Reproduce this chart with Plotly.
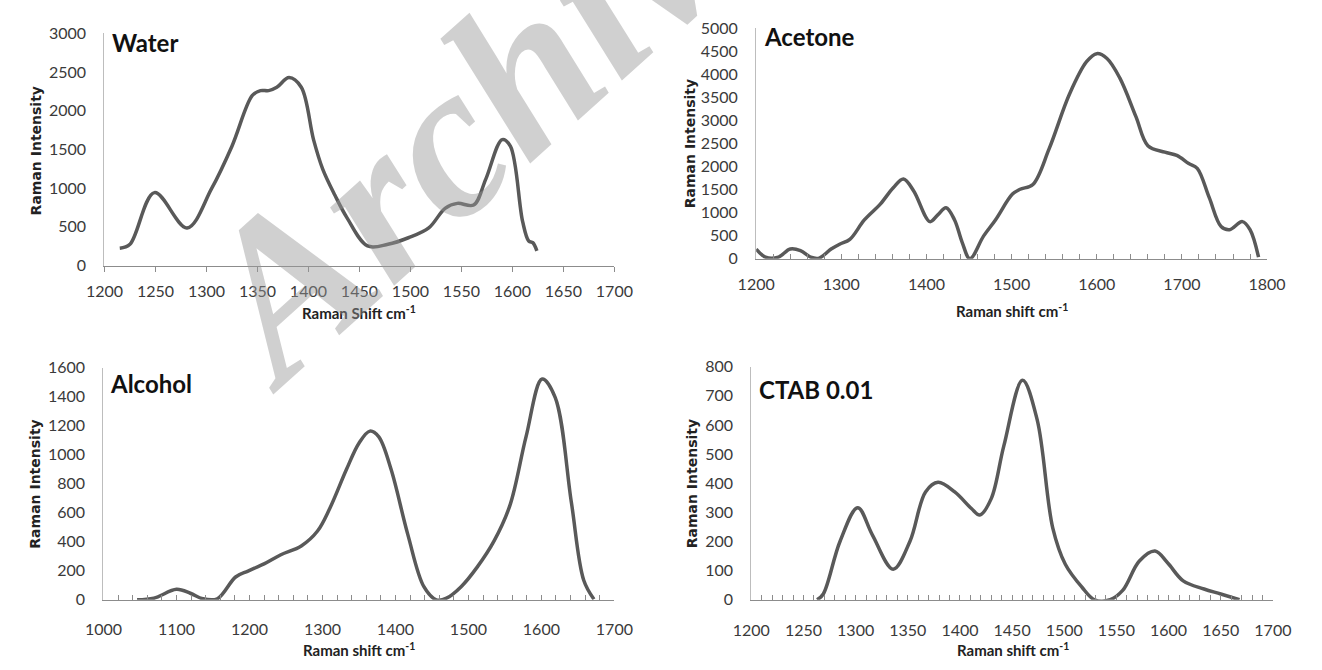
import plotly.graph_objects as go

# ---------------- data ----------------
water_x = [1215, 1225, 1249, 1281, 1305, 1325, 1345, 1353, 1361, 1369, 1381, 1393, 1405, 1414,
           1426, 1438, 1458, 1478, 1498, 1518, 1534, 1546, 1562, 1574, 1590, 1598, 1610, 1616, 1620, 1624]
water_y = [224, 275, 942, 486, 993, 1542, 2197, 2260, 2260, 2303, 2429, 2303, 1627, 1246,
           908, 613, 253, 275, 359, 486, 739, 803, 782, 1120, 1627, 1542, 570, 317, 296, 190]

acetone_x = [1200, 1211, 1226, 1240, 1252, 1264, 1274, 1288, 1298, 1310, 1327, 1346, 1361, 1373,
             1385, 1404, 1413, 1423, 1433, 1442, 1451, 1467, 1481, 1501, 1510, 1525, 1544, 1568,
             1588, 1600, 1612, 1627, 1646, 1660, 1680, 1694, 1708, 1718, 1732, 1746, 1756, 1771,
             1780, 1790]
acetone_y = [210, 35, 35, 210, 175, 35, 14, 210, 315, 421, 842, 1192, 1543, 1732,
             1473, 806, 947, 1108, 842, 351, 0, 491, 842, 1403, 1508, 1613, 2384, 3577,
             4278, 4453, 4348, 3927, 3086, 2455, 2314, 2244, 2069, 1964, 1332, 701, 631, 806,
             631, 35]

alcohol_x = [1046, 1069, 1100, 1119, 1136, 1156, 1181, 1198, 1220, 1243, 1271, 1293, 1310, 1333,
             1350, 1365, 1377, 1394, 1417, 1439, 1456, 1470, 1490, 1512, 1535, 1557, 1579, 1601,
             1619, 1641, 1658, 1672]
alcohol_y = [0, 11, 72, 45, 7, 7, 157, 198, 247, 310, 371, 472, 629, 899,
             1079, 1162, 1124, 899, 449, 90, 0, 11, 90, 225, 404, 652, 1124, 1521,
             1393, 674, 135, 4]

ctab_x = [1263, 1269, 1285, 1302, 1316, 1336, 1352, 1367, 1379, 1395, 1411, 1419, 1430, 1442,
          1460, 1474, 1489, 1501, 1517, 1529, 1544, 1556, 1572, 1587, 1599, 1614, 1634, 1650, 1668]
ctab_y = [0, 20, 200, 316, 223, 105, 200, 370, 403, 370, 313, 291, 347, 527,
          753, 618, 246, 122, 43, 0, 0, 32, 133, 167, 127, 65, 37, 20, 0]

panel_names = ["Water", "Acetone", "Alcohol", "CTAB 0.01"]
x_titles = ["Raman Shift cm<sup>-1</sup>", "Raman shift cm<sup>-1</sup>",
            "Raman shift cm<sup>-1</sup>", "Raman shift cm<sup>-1</sup>"]
y_title = "Raman Intensity"

# ---------------- layout helpers ----------------
W, H = 1322, 670
FONT = "Lato, 'Open Sans', sans-serif"
LINE = "#595959"
TICKC = "#3a3a3a"


def xd(a, b):
    return [a / W, b / W]


def yd(top, bottom):
    return [1 - bottom / H, 1 - top / H]


fig = go.Figure()
series = [(water_x, water_y), (acetone_x, acetone_y), (alcohol_x, alcohol_y), (ctab_x, ctab_y)]
for i, (xs, ys) in enumerate(series):
    sfx = "" if i == 0 else str(i + 1)
    fig.add_trace(go.Scatter(x=xs, y=ys, mode="lines", xaxis="x" + sfx, yaxis="y" + sfx,
                             line=dict(color=LINE, width=3.5, shape="spline", smoothing=1.0),
                             showlegend=False, hoverinfo="skip"))

xdoms = [xd(88, 613), xd(759, 1285), xd(87, 613), xd(754, 1291)]
ydoms = [yd(24, 263), yd(19, 256), yd(368, 607), yd(367, 607)]
xranges = [[1200, 1700], [1200, 1800], [1000, 1700], [1200, 1700]]
yranges = [[0, 3000], [0, 5000], [0, 1600], [0, 800]]
ydticks = [500, 500, 200, 100]
xdticks = [50, 100, 100, 50]
xminor = [None, 20, 20, 10]
xstandoff = [6, 11, 15, 16]

layout = dict(width=W, height=H, margin=dict(l=0, r=0, t=0, b=0),
              paper_bgcolor="white", plot_bgcolor="white",
              font=dict(family=FONT, color=TICKC))

for i in range(4):
    sfx = "" if i == 0 else str(i + 1)
    xa = dict(domain=xdoms[i], range=xranges[i], anchor="y" + sfx, dtick=xdticks[i], tick0=0,
              showgrid=False, zeroline=False, showline=True, linecolor="#8c8c8c", linewidth=1.3,
              ticks="outside" if i == 0 else "inside", ticklen=5, tickcolor="#8c8c8c",
              tickfont=dict(size=16, family=FONT, color=TICKC), ticklabelstandoff=xstandoff[i])
    if xminor[i]:
        xa["minor"] = dict(dtick=xminor[i], tick0=0, ticks="inside", ticklen=5, tickcolor="#8c8c8c")
    ya = dict(domain=ydoms[i], range=yranges[i], anchor="x" + sfx, dtick=ydticks[i], tick0=0,
              showgrid=False, zeroline=False, showline=True, linecolor="#bdbdbd", linewidth=1.3,
              ticks="", tickfont=dict(size=16, family=FONT, color=TICKC), ticklabelstandoff=14)
    layout["xaxis" + sfx] = xa
    layout["yaxis" + sfx] = ya

fig.update_layout(**layout)

# panel labels
label_pos = [(94, 33), (765, 27), (92, 384), (760, 391)]
for name, (px, py) in zip(panel_names, label_pos):
    fig.add_annotation(text="<b>" + name + "</b>", xref="paper", yref="paper",
                       x=px / W, y=1 - py / H, xanchor="left", yanchor="middle", showarrow=False,
                       font=dict(size=24, family=FONT, color="#111111"))

# axis titles
xt_pos = [(350, 311), (1022, 309), (350, 658), (1023, 658)]
for t, (px, py) in zip(x_titles, xt_pos):
    fig.add_annotation(text="<b>" + t + "</b>", xref="paper", yref="paper",
                       x=px / W, y=1 - py / H, xanchor="center", yanchor="middle", showarrow=False,
                       font=dict(size=15, family=FONT, color="#222222"))
yt_pos = [(17, 145), (691, 138), (17, 488), (693, 488)]
for (px, py) in yt_pos:
    fig.add_annotation(text="<b>" + y_title + "</b>", xref="paper", yref="paper", textangle=-90,
                       x=px / W, y=1 - py / H, xanchor="center", yanchor="middle", showarrow=False,
                       font=dict(size=14, family="'DejaVu Sans', sans-serif", color="#222222"))

# watermark
fig.add_annotation(text="<b><i>Archive</i></b>", xref="paper", yref="paper", textangle=-42,
                   x=486 / W, y=1 - 92 / H, xanchor="center", yanchor="middle", showarrow=False,
                   font=dict(size=220, family="'Liberation Serif', serif", color="rgba(150,150,150,0.45)"))

fig.write_html("out.html")
